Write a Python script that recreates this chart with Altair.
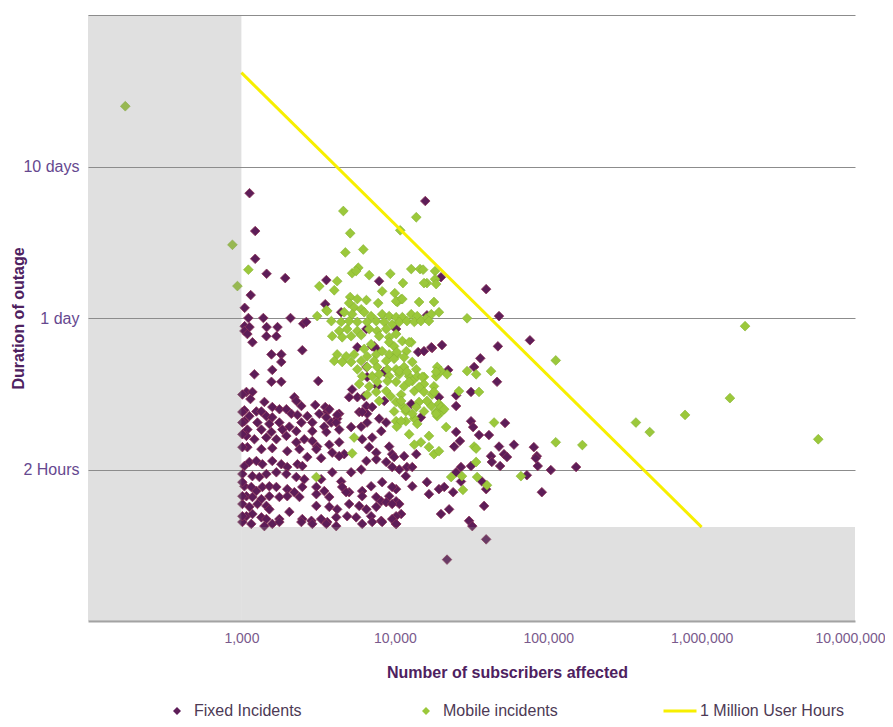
import altair as alt
import pandas as pd

# ---------------- data ----------------
fixed_subscribers = [
    1130, 1230, 1230, 1460, 1930, 1150, 1050, 1110, 1390, 2090,
    2530, 2650, 1050, 1130, 1460, 1720, 3580, 3520, 4470, 15800,
    20000, 39400, 47800, 16200, 76000, 47000, 36100, 20300, 17500, 14200,
    32900, 22300, 46400, 31400, 25100, 25100, 14800, 31400, 32400, 52300,
    25100, 35400, 41100, 26600, 24400, 47800, 59800, 80600, 84300, 42400,
    51500, 13800, 11500, 53900, 83000, 85500, 104000, 152000, 48600, 42900,
    31400, 27000, 25100, 72600, 10700, 12000, 13000, 11800, 27000, 37000,
    39400, 16200, 19400, 21000, 16700, 13000, 24000, 10200, 90900, 38200,
    22600, 20000, 30500, 32000, 10200, 10700, 11000, 10200, 10200, 39400,
    21900, 7900, 6530, 10200, 5700, 7120, 15500, 17300, 6530, 8530,
    7680, 6600, 8530, 12800, 5270, 5700, 6320, 5040, 6530, 7120,
    5860, 6600, 4340, 4210, 6600, 7910, 3630, 3860, 19400, 7340,
    7570, 6130, 8160, 8790, 7120, 6130, 6810, 7570, 9190, 9610,
    1046, 1094, 1180, 1455, 1690, 2495, 1570, 1820, 1820, 1590,
    1215, 1570, 1820, 3170, 1078, 1180, 1145, 2214, 2282, 1412,
    1046, 1252, 1350, 1590, 1770, 1964, 2460, 3030, 3520, 3740,
    4210, 1127, 1455, 1590, 2116, 2320, 2690, 3220, 3580, 1046,
    1272, 1521, 1768, 2054, 2460, 2900, 3470, 4150, 1094, 1350,
    1570, 1850, 2280, 2900, 3580, 4340, 5190, 6040, 1078, 1215,
    1455, 1690, 1964, 2280, 2570, 2900, 3120, 3740, 4340, 1094,
    1350, 1590, 1990, 2390, 3080, 3910, 4680, 1015, 1046, 1127,
    1252, 1370, 1590, 1820, 1990, 2320, 2690, 3310, 4340, 2495,
    1015, 1180, 1310, 1455, 1690, 1964, 2280, 2570, 3310, 3910,
    4470, 5190, 6040, 6530, 7570, 8790, 9610, 9900, 1046, 1160,
    1252, 1370, 1521, 1690, 1990, 2214, 2495, 3080, 3470, 4540,
    5040, 6130, 7010, 8270, 9610, 1078, 1180, 1350, 1521, 1768,
    1990, 2390, 3080, 3740, 4820, 6130, 7570, 8160, 9190, 1015,
    1127, 1272, 1455, 1521, 2054, 3080, 3740, 4210, 5040, 5860,
    6530, 7570, 8790, 9610, 1078, 1180, 1350, 1455, 1768, 2495,
    2860, 3310, 3630, 4150, 4890, 5600, 7010, 8160, 9610, 1015,
    1160, 1412, 1590, 1768, 2460, 2900, 3580, 4150, 6130, 7120,
    8270, 10200, 1015, 1015, 1015, 1015, 1015, 1015, 1015,
]
fixed_hours = [
    160, 90, 59, 47, 44, 34, 28, 24, 24, 24,
    22, 22.6, 21.2, 20.9, 20.9, 20.9, 42.7, 29.6, 26.2, 142,
    44.6, 37.2, 24.7, 25, 17.1, 15.6, 13.0, 15.9, 15.2, 14.3,
    11.4, 10.9, 9.1, 7.8, 7.4, 6.3, 5.3, 5.0, 4.57, 4.86,
    4.24, 4.05, 4.05, 3.7, 3.4, 3.4, 3.5, 3.37, 2.94, 2.94,
    3.03, 3.03, 2.94, 2.9, 2.85, 2.53, 2.38, 2.49, 2.53, 2.69,
    2.53, 2.49, 2.3, 2.2, 2.4, 2.49, 2.49, 2.17, 2.0, 2.0,
    1.78, 1.98, 1.78, 1.84, 1.65, 1.86, 1.70, 1.78, 1.70, 1.38,
    1.31, 1.22, 1.10, 1.015, 1.48, 1.42, 1.22, 1.18, 1.05, 0.83,
    0.61, 42, 20.3, 20.3, 15.4, 15.6, 14.5, 15.4, 11.4, 10.6,
    8.5, 9.8, 6.8, 6.5, 8.1, 7.2, 7.3, 7.2, 6.3, 6.2,
    5.75, 5.6, 5.6, 5.2, 4.9, 5.2, 5.8, 4.9, 7.2, 15.6,
    15, 5.75, 4.3, 4.9, 3.9, 3.8, 3.37, 3.1, 3.4, 3.03,
    19.7, 18.8, 16.6, 18.2, 18.2, 14.7, 13.8, 13.8, 12.3, 10.9,
    10.2, 9.1, 9.1, 9.2, 7.8, 7.8, 7.0, 7.2, 6.8, 6.7,
    5.9, 5.8, 5.8, 6.2, 6.0, 6.0, 6.3, 6.4, 6.2, 6.0,
    5.5, 5.4, 5.4, 5.3, 5.6, 5.5, 5.4, 5.6, 5.3, 5.0,
    4.9, 4.8, 4.9, 4.6, 4.9, 4.9, 4.6, 4.9, 4.4, 4.4,
    4.24, 4.4, 4.3, 4.3, 4.24, 4.4, 4.57, 4.6, 4.0, 3.8,
    3.9, 3.8, 4.0, 3.63, 3.8, 3.7, 3.4, 3.5, 3.63, 3.37,
    3.27, 3.32, 3.17, 3.27, 3.27, 3.1, 3.03, 3.37, 2.53, 2.69,
    2.73, 2.6, 2.73, 2.6, 2.49, 2.6, 2.9, 2.85, 2.94, 2.53,
    2.24, 2.17, 2.14, 2.24, 2.3, 2.24, 2.14, 2.07, 2.07, 2.3,
    2.0, 2.3, 2.4, 2.73, 2.8, 2.69, 2.49, 2.9, 1.86, 1.84,
    1.73, 1.84, 1.86, 1.84, 1.78, 1.70, 1.84, 1.84, 1.73, 1.84,
    1.70, 1.73, 1.86, 1.98, 1.84, 1.6, 1.58, 1.53, 1.6, 1.58,
    1.6, 1.58, 1.65, 1.58, 1.70, 1.6, 1.58, 1.48, 1.6, 1.42,
    1.36, 1.42, 1.38, 1.31, 1.26, 1.38, 1.36, 1.31, 1.42, 1.38,
    1.31, 1.36, 1.46, 1.42, 1.18, 1.22, 1.16, 1.13, 1.13, 1.13,
    1.10, 1.13, 1.08, 1.16, 1.18, 1.16, 1.18, 1.10, 1.13, 1.08,
    1.05, 1.015, 1.05, 1.08, 1.08, 1.05, 1.05, 1.015, 1.05, 1.08,
    1.08, 1.05, 7.5, 5.75, 4.9, 4.1, 1.98, 1.6, 1.18,
]

mobile_subscribers = [
    175, 874, 942, 1110, 4620, 5120, 4760, 6230, 5270, 5780,
    5600, 6810, 9350, 3220, 4030, 8270, 5120, 3120, 3580, 10850,
    13800, 12800, 14600, 15300, 18300, 18300, 16200, 11300, 11000, 10400,
    14400, 29600, 5430, 5270, 3080, 112000, 1920000, 1530000, 780000, 373000,
    459000, 5760000, 112000, 167000, 23300, 27400, 34400, 39900, 27800, 33900,
    66400, 10000, 4210, 15500, 18600, 5700, 6530, 5040, 7790, 10200,
    11200, 18000, 5430, 6040, 3630, 4680, 5270, 6320, 7010, 8270,
    9190, 10200, 11200, 12800, 14000, 16000, 17300, 19400, 3860, 4470,
    5040, 5700, 6600, 7570, 8530, 9610, 10700, 12000, 13400, 14800,
    16700, 4340, 4890, 5700, 6810, 7680, 8790, 3910, 4540, 5190,
    6040, 7910, 9190, 9190, 11200, 12800, 9900, 7010, 4210, 4820,
    5430, 6320, 6600, 7570, 8270, 9190, 10300, 11900, 13000, 4030,
    4540, 5190, 6040, 7340, 8790, 9900, 5700, 6600, 7680, 8960,
    10200, 11500, 13800, 18900, 20000, 6130, 7120, 7910, 9190, 10700,
    12400, 14000, 15500, 18600, 21900, 5860, 6810, 7680, 8960, 10200,
    11500, 13000, 15500, 18000, 6600, 7570, 8790, 9400, 11000, 13400,
    15500, 17500, 7910, 10200, 11200, 14400, 17300, 19400, 9900, 11800,
    13800, 15500, 18600, 20300, 10200, 11800, 13400, 18900, 10200, 12400,
    10300, 11500, 10700, 12000, 15100, 18600, 29600, 33900, 42400, 12400,
    14400, 18000, 26200, 35400, 16200, 20000, 18600, 21000, 11000, 11800,
    13000, 11000, 14000, 21600, 12400, 16700, 14800, 16700, 18000, 44400,
    32900, 33900, 10300, 13400, 19400,
]
mobile_hours = [
    600, 73, 39, 50, 122, 87, 65, 68, 47.4, 51.5,
    49, 46, 47, 38.9, 36.6, 36, 33, 24.7, 27, 91,
    111, 50.5, 50.5, 50, 49, 43.3, 40.8, 40.8, 32, 30.6,
    30.6, 23.9, 3.9, 3.07, 2.14, 12.6, 21.2, 7.1, 5.5, 4.9,
    4.24, 3.8, 3.63, 3.48, 2.14, 2.17, 2.14, 1.89, 1.76, 2.69,
    2.17, 35, 42, 40.8, 40.2, 32, 31.5, 30.1, 30.1, 31,
    32, 30.6, 28.2, 27.4, 26.7, 26.2, 25.4, 26.2, 24.7, 25.4,
    24.7, 24.3, 24.3, 25.4, 24.7, 23.9, 25.4, 26.2, 22.9, 22.6,
    22.9, 22.6, 22.6, 22.9, 22.6, 21.8, 22.6, 22.9, 22.6, 22.9,
    22.9, 19.7, 20.3, 19.7, 20.3, 19.7, 20.3, 18.2, 17.9, 18.2,
    18.5, 18.2, 17.9, 16.6, 16.9, 16.6, 15.6, 16.1, 13.8, 13.4,
    13.8, 15, 13.4, 13.8, 14.5, 13.8, 13.8, 14.5, 12.3, 12.5,
    12.3, 12.3, 12.5, 12.5, 12.5, 12.9, 11.0, 11.4, 11.4, 11.0,
    11.0, 11.4, 11.0, 11.4, 10.7, 9.9, 9.9, 10.2, 9.9, 10.2,
    9.9, 9.9, 9.8, 9.9, 10.2, 8.8, 8.5, 9.1, 9.2, 9.1,
    8.5, 9.2, 8.8, 8.5, 7.5, 7.8, 7.9, 7.3, 7.5, 7.9,
    7.8, 7.5, 6.8, 6.7, 6.3, 6.7, 6.3, 6.5, 5.8, 5.8,
    6.2, 5.8, 5.75, 5.8, 5.0, 5.0, 5.2, 5.4, 18.8, 16.6,
    14.3, 13.2, 10.7, 10.6, 9.8, 10.6, 10.7, 10.2, 10.7, 9.1,
    8.4, 7.8, 7.9, 7.8, 6.8, 6.2, 5.6, 6.0, 6.8, 6.0,
    5.6, 5.0, 4.8, 4.57, 4.1, 4.0, 3.63, 3.37, 3.03, 4.9,
    3.4, 3.3, 4.6, 3.5, 3.17,
]

# 1 million user-hours reference line
line_subscribers = [1000, 1000000]
line_hours = [1000, 1]

# shaded (excluded) regions
shade_sub_start = [100, 1000]
shade_sub_end = [1000, 10000000]
shade_hours_low = [0.24, 0.24]
shade_hours_high = [2400, 1]

x_ticks = [1000, 10000, 100000, 1000000, 10000000]
y_ticks = [2.4, 24, 240, 2400]
y_tick_labels = ["2 Hours", "1 day", "10 days", ""]

series_names = ["Fixed Incidents", "Mobile incidents"]
line_name = "1 Million User Hours"

# ---------------- styling ----------------
FONT = "Liberation Sans"
FIXED_FILL = "#5d1d58"
FIXED_EDGE = "#8c3358"
MOBILE_FILL = "#9bc83b"
MOBILE_EDGE = "#86b330"
YELLOW = "#f7ef00"
TITLE_COLOR = "#4e2160"
LEGEND_TEXT = "#4d3a55"

n = min(len(fixed_subscribers), len(fixed_hours))
fixed_df = pd.DataFrame({
    "subscribers": fixed_subscribers[:n],
    "hours": fixed_hours[:n],
    "type": series_names[0],
})
m = min(len(mobile_subscribers), len(mobile_hours))
mobile_df = pd.DataFrame({
    "subscribers": mobile_subscribers[:m],
    "hours": mobile_hours[:m],
    "type": series_names[1],
})
line_df = pd.DataFrame({
    "subscribers": line_subscribers,
    "hours": line_hours,
    "series": line_name,
})
shade_df = pd.DataFrame({
    "subscribers": shade_sub_start,
    "subscribers_end": shade_sub_end,
    "hours": shade_hours_low,
    "hours_high": shade_hours_high,
})

label_expr = " : ".join(
    f"abs(datum.value - {v}) < {v * 0.01} ? '{lab}'"
    for v, lab in zip(y_ticks, y_tick_labels)
) + " : ''"

xs = alt.Scale(type="log", domain=[100, 10000000], nice=False)
ys = alt.Scale(type="log", domain=[0.24, 2400], nice=False)

x_axis = alt.Axis(
    values=x_ticks, format=",", grid=False, ticks=False, tickSize=0,
    domain=True, domainColor="#a3a3a3", domainWidth=2,
    labelFontSize=14, labelColor="#7a5a8c", labelPadding=10,
    labelFlush=False, labelOverlap=False,
    labelOffset={"condition": {"test": "datum.value >= 5000000", "value": -5}, "value": 0},
    title="Number of subscribers affected", titleFontSize=16,
    titleFontWeight="bold", titleColor=TITLE_COLOR,
    titleX=419, titleY=51, titleBaseline="middle",
)
y_axis = alt.Axis(
    values=y_ticks, labelExpr=label_expr, grid=True, gridColor="#8c8c8c",
    gridWidth=1, ticks=False, tickSize=0, domain=False,
    labelFontSize=16, labelColor="#66488f", labelPadding=9,
    title="Duration of outage", titleFontSize=16, titleFontWeight="bold",
    titleColor=TITLE_COLOR, titleX=-70, titleY=303, titleAngle=270,
    titleBaseline="middle",
)

X = alt.X("subscribers:Q", scale=xs, axis=x_axis, title="Number of subscribers affected")
Y = alt.Y("hours:Q", scale=ys, axis=y_axis, title="Duration of outage")

point_color = alt.Color(
    "type:N",
    scale=alt.Scale(domain=series_names, range=[FIXED_FILL, MOBILE_FILL]),
    legend=alt.Legend(
        title=None, orient="none", legendX=81, legendY=688,
        direction="horizontal", symbolType="diamond", symbolSize=64,
        symbolStrokeWidth=0, symbolOpacity=1, labelFontSize=16,
        labelColor=LEGEND_TEXT, labelOffset=9, columnPadding=116,
        labelFont=FONT,
    ),
)

fixed_layer = alt.Chart(fixed_df).mark_point(
    shape="diamond", filled=True, size=92, opacity=1,
    stroke=FIXED_EDGE, strokeWidth=0.8,
).encode(x=X, y=Y, color=point_color)

mobile_layer = alt.Chart(mobile_df).mark_point(
    shape="diamond", filled=True, size=96, opacity=1,
    stroke=MOBILE_EDGE, strokeWidth=0.6,
).encode(x=X, y=Y, color=point_color)

line_layer = alt.Chart(line_df).mark_line(strokeWidth=3).encode(
    x=X, y=Y,
    stroke=alt.Stroke(
        "series:N",
        scale=alt.Scale(domain=[line_name], range=[YELLOW]),
        legend=alt.Legend(
            title=None, orient="none", legendX=574, legendY=678,
            symbolType="stroke", symbolSize=1089, symbolStrokeWidth=3,
            labelFontSize=16, labelColor=LEGEND_TEXT, labelOffset=2,
            labelFont=FONT,
        ),
    ),
)

shade_layer = alt.Chart(shade_df).mark_rect(color="#8c8c8c", opacity=0.27).encode(
    x=X, x2="subscribers_end:Q", y=Y, y2="hours_high:Q",
)

chart = alt.layer(fixed_layer, mobile_layer, line_layer, shade_layer).properties(
    width=767, height=606,
    autosize=alt.AutoSizeParams(type="none"),
    padding={"left": 80, "top": 7, "right": 30, "bottom": 98},
    background="white",
).configure(font=FONT).configure_view(strokeWidth=0).configure_axis(
    labelFont=FONT, titleFont=FONT,
)

chart.save("out.html", embed_options={"renderer": "svg", "actions": False})
